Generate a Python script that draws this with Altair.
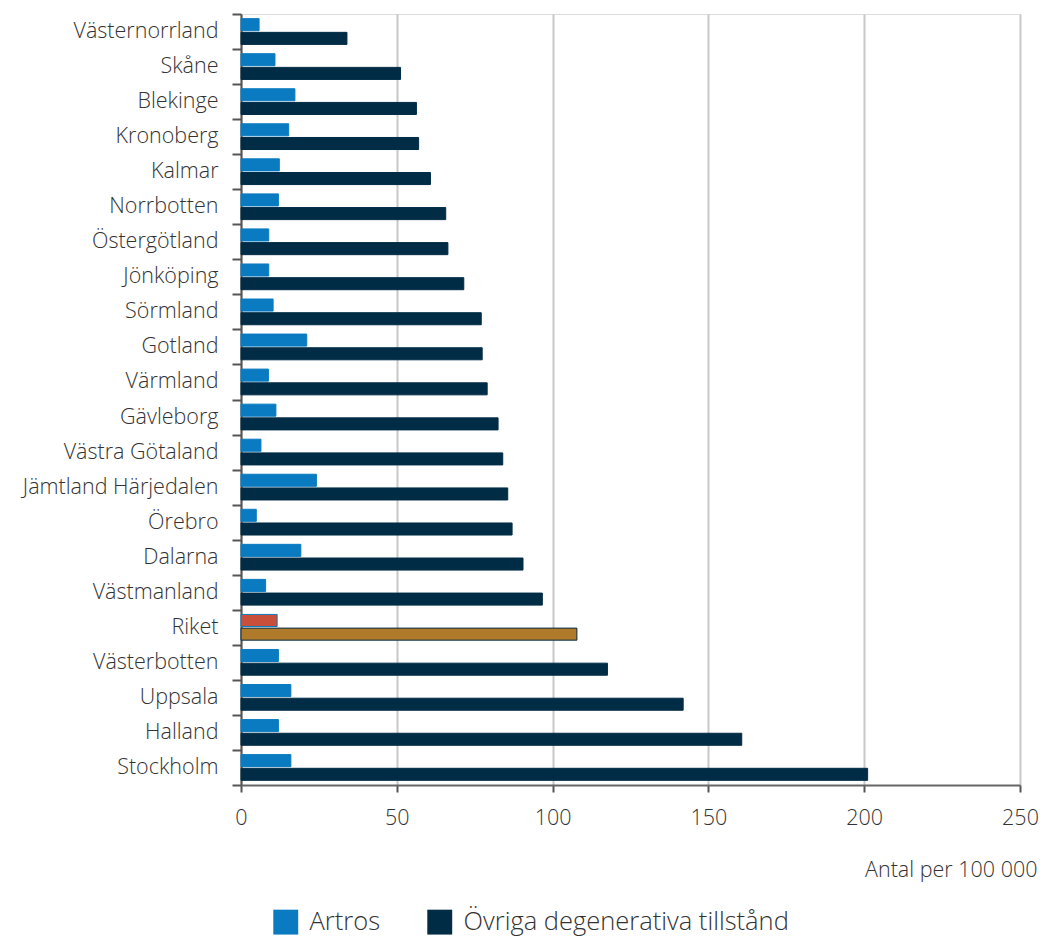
import altair as alt
import pandas as pd

# Regioner, uppifrån och ned
regions = [
    "Västernorrland", "Skåne", "Blekinge", "Kronoberg", "Kalmar", "Norrbotten",
    "Östergötland", "Jönköping", "Sörmland", "Gotland", "Värmland", "Gävleborg",
    "Västra Götaland", "Jämtland Härjedalen", "Örebro", "Dalarna", "Västmanland",
    "Riket", "Västerbotten", "Uppsala", "Halland", "Stockholm",
]
artros = [
    5.8, 10.9, 17.3, 15.3, 12.3, 12.0, 8.9, 8.9, 10.3, 21.1, 8.8, 11.2,
    6.4, 24.2, 4.9, 19.2, 7.9, 11.6, 12.0, 16.0, 12.0, 16.0,
]
ovriga = [
    34.0, 51.2, 56.3, 57.0, 60.8, 65.7, 66.4, 71.5, 77.1, 77.4, 79.0, 82.5,
    84.0, 85.6, 87.0, 90.5, 96.7, 107.8, 117.6, 141.9, 160.7, 201.1,
]
series = ["Artros", "Övriga degenerativa tillstånd"]
x_ticks = [0, 50, 100, 150, 200, 250]

rows = []
for r, a, o in zip(regions, artros, ovriga):
    for s, v in zip(series, [a, o]):
        key = f"Riket {s}" if r == "Riket" else s
        rows.append({"region": r, "serie": s, "varde": v, "fyllning": key})
df = pd.DataFrame(rows)

FONT = "Open Sans"
TXT = "#333333"
W = 300
FS = 21.5

fill_domain = series + ["Riket Artros", "Riket Övriga degenerativa tillstånd"]
fill_range = ["#0a7bc1", "#002c46", "#c8503a", "#b07a2b"]

chart = (
    alt.Chart(df)
    .mark_bar(strokeWidth=1)
    .encode(
        x=alt.X(
            "varde:Q",
            scale=alt.Scale(domain=[0, 250], nice=False),
            axis=alt.Axis(
                values=x_ticks,
                title="Antal per 100 000",
                titleX=796,
                titleY=85,
                titleAlign="right",
                titleBaseline="middle",
                titleFont=FONT,
                titleFontSize=FS,
                titleFontWeight=W,
                titleColor=TXT,
                labelFont=FONT,
                labelFontSize=FS,
                labelFontWeight=W,
                labelColor=TXT,
                labelFlush=False,
                labelPadding=15,
                tickSize=7,
                tickWidth=2,
                tickColor="#555555",
                domainColor="#666666",
                domainWidth=2,
                grid=True,
                gridColor="#c8c8c8",
                gridWidth=2,
            ),
        ),
        y=alt.Y(
            "region:N",
            sort=regions,
            scale=alt.Scale(paddingInner=0, paddingOuter=0),
            axis=alt.Axis(
                title=None,
                tickBand="extent",
                labelFont=FONT,
                labelFontSize=FS,
                labelFontWeight=W,
                labelColor=TXT,
                labelLimit=0,
                labelPadding=14,
                tickSize=9,
                tickWidth=2,
                tickColor="#555555",
                domainColor="#555555",
                domainWidth=2,
                grid=False,
            ),
        ),
        yOffset=alt.YOffset(
            "serie:N",
            sort=series,
            scale=alt.Scale(paddingInner=0.12, paddingOuter=0.34),
        ),
        fill=alt.Fill(
            "fyllning:N",
            scale=alt.Scale(domain=fill_domain, range=fill_range),
            legend=alt.Legend(
                values=series,
                title=None,
                orient="none",
                direction="horizontal",
                legendX=32,
                legendY=895,
                padding=0,
                symbolType="square",
                symbolSize=620,
                symbolStrokeWidth=0,
                labelFont=FONT,
                labelFontSize=25.5,
                labelFontWeight=W,
                labelColor=TXT,
                labelLimit=0,
                labelOffset=11,
                columnPadding=46,
            ),
        ),
        stroke=alt.Stroke(
            "serie:N",
            scale=alt.Scale(domain=series, range=["#0a7bc1", "#002c46"]),
            legend=None,
        ),
        order=alt.Order("serie:N"),
    )
    .properties(
        width=779,
        height=771,
        autosize=alt.AutoSizeParams(type="none"),
        padding={"left": 241, "top": 14, "right": 23, "bottom": 155},
    )
    .configure_view(stroke=None)
    .configure(background="white")
)

chart.save("out.html", embed_options={"renderer": "svg", "actions": False})
